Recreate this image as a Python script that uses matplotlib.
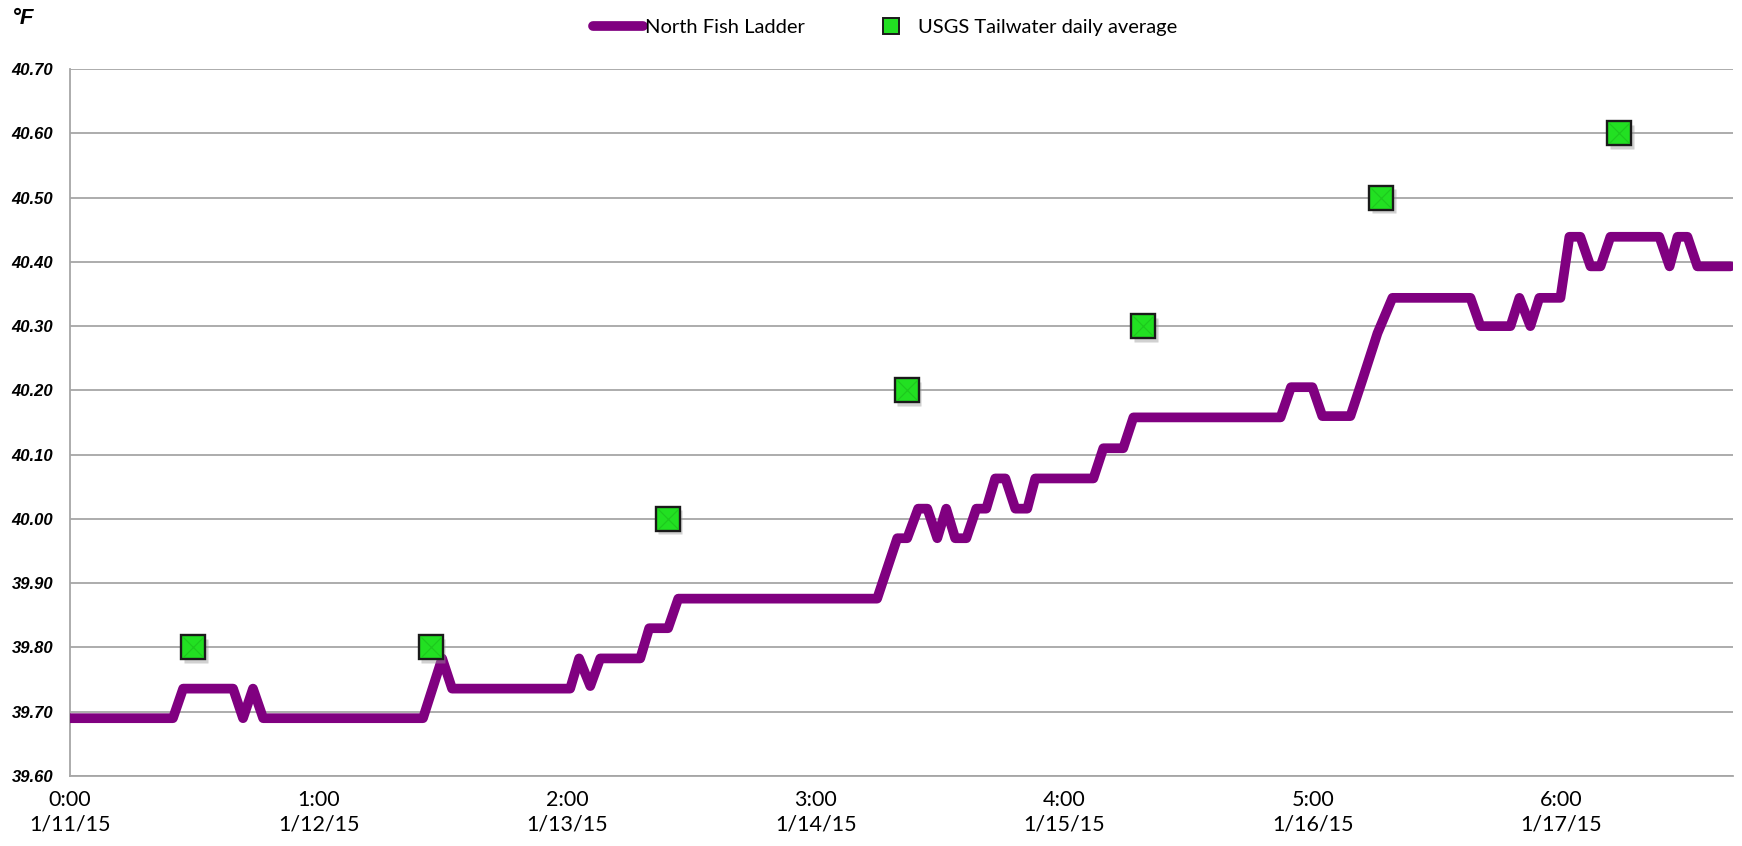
import matplotlib
matplotlib.use("Agg")
import matplotlib.pyplot as plt
from matplotlib.lines import Line2D
import matplotlib.transforms as mtransforms

# ---- data ----
ladder_x = [0.0, 0.414, 0.455, 0.656, 0.696, 0.736, 0.777, 1.42, 1.497, 1.537,
            2.012, 2.048, 2.093, 2.133, 2.294, 2.33, 2.406, 2.447, 3.247, 3.328,
            3.368, 3.412, 3.449, 3.489, 3.525, 3.561, 3.606, 3.646, 3.686, 3.722,
            3.763, 3.803, 3.851, 3.883, 4.117, 4.157, 4.237, 4.278, 4.87, 4.912,
            4.998, 5.038, 5.151, 5.199, 5.26, 5.32, 5.634, 5.674, 5.795, 5.831,
            5.875, 5.911, 5.996, 6.032, 6.076, 6.117, 6.157, 6.197, 6.394, 6.435,
            6.467, 6.507, 6.547, 6.68]
ladder_y = [39.69, 39.69, 39.736, 39.736, 39.69, 39.736, 39.69, 39.69, 39.783, 39.736,
            39.736, 39.783, 39.74, 39.783, 39.783, 39.83, 39.83, 39.876, 39.876, 39.97,
            39.97, 40.016, 40.016, 39.97, 40.016, 39.97, 39.97, 40.016, 40.016, 40.063,
            40.063, 40.016, 40.016, 40.063, 40.063, 40.11, 40.11, 40.158, 40.158, 40.205,
            40.205, 40.16, 40.16, 40.216, 40.289, 40.344, 40.344, 40.30, 40.30, 40.344,
            40.30, 40.344, 40.344, 40.439, 40.439, 40.393, 40.393, 40.439, 40.439, 40.393,
            40.439, 40.439, 40.393, 40.393]

usgs_x = [0.496, 1.452, 2.405, 3.367, 4.318, 5.276, 6.233]
usgs_y = [39.80, 39.80, 40.00, 40.20, 40.30, 40.50, 40.60]

tick_pos = [0, 1, 2, 3, 4, 5, 6]
tick_labels = ["0:00\n1/11/15", "1:00\n1/12/15", "2:00\n1/13/15", "3:00\n1/14/15",
               "4:00\n1/15/15", "5:00\n1/16/15", "6:00\n1/17/15"]
y_ticks = [39.60, 39.70, 39.80, 39.90, 40.00, 40.10, 40.20, 40.30, 40.40, 40.50, 40.60, 40.70]

LINE_COLOR = "#800080"
GREEN = "#22e022"

fig = plt.figure(figsize=(17.42, 8.46), dpi=100)
ax = fig.add_axes([0.0402, 0.0827, 0.9546, 0.8357])

ax.set_xlim(0, 6.69)
ax.set_ylim(39.60, 40.70)

ax.set_yticks(y_ticks)
ax.set_yticklabels([f"{v:.2f}" for v in y_ticks], fontfamily="Liberation Sans",
                   fontweight="bold", fontstyle="italic", fontsize=12)
ax.set_xticks(tick_pos)
ax.set_xticklabels(tick_labels, fontfamily="Lato", fontsize=15.5, linespacing=1.3)
ax.tick_params(axis="both", length=0)
ax.tick_params(axis="y", pad=12)
ax.tick_params(axis="x", pad=10)

ax.grid(axis="y", color="#a6a6a6", linewidth=1.3)
ax.set_axisbelow(True)
for s in ["top", "right"]:
    ax.spines[s].set_visible(False)
for s in ["left", "bottom"]:
    ax.spines[s].set_color("#a6a6a6")
    ax.spines[s].set_linewidth(1.3)

ax.plot(ladder_x, ladder_y, color=LINE_COLOR, linewidth=7,
        solid_capstyle="round", solid_joinstyle="round", zorder=3)

# shadow for markers
shadow = mtransforms.offset_copy(ax.transData, fig=fig, x=2.5, y=-3.5, units="dots")
ax.plot(usgs_x, usgs_y, linestyle="none", marker="s", markersize=17.5,
        markerfacecolor="#999999", markeredgecolor="none", alpha=0.45,
        transform=shadow, zorder=4)
ax.plot(usgs_x, usgs_y, linestyle="none", marker="s", markersize=17.5,
        markerfacecolor=GREEN, markeredgecolor="#1a1a1a", markeredgewidth=1.7, zorder=5)
ax.plot(usgs_x, usgs_y, linestyle="none", marker="x", markersize=14,
        markeredgecolor="#1cc41c", markeredgewidth=0.9, alpha=0.8, zorder=6)

fig.text(0.007, 0.978, "°F", fontfamily="Liberation Sans", fontweight="bold",
         fontstyle="italic", fontsize=16, va="center", ha="left")

handles = [Line2D([0], [0], color=LINE_COLOR, linewidth=7, solid_capstyle="round"),
           Line2D([0], [0], linestyle="none", marker="s", markersize=11,
                  markerfacecolor=GREEN, markeredgecolor="#1a1a1a", markeredgewidth=1.4)]
fig.legend(handles, ["North Fish Ladder", "USGS Tailwater daily average"],
           loc="center", bbox_to_anchor=(0.508, 0.967), ncol=2, frameon=False,
           prop={"family": "Lato", "size": 14.5}, handlelength=2.5, handletextpad=0.1,
           columnspacing=3.0)

fig.savefig("out.png", dpi=100)
